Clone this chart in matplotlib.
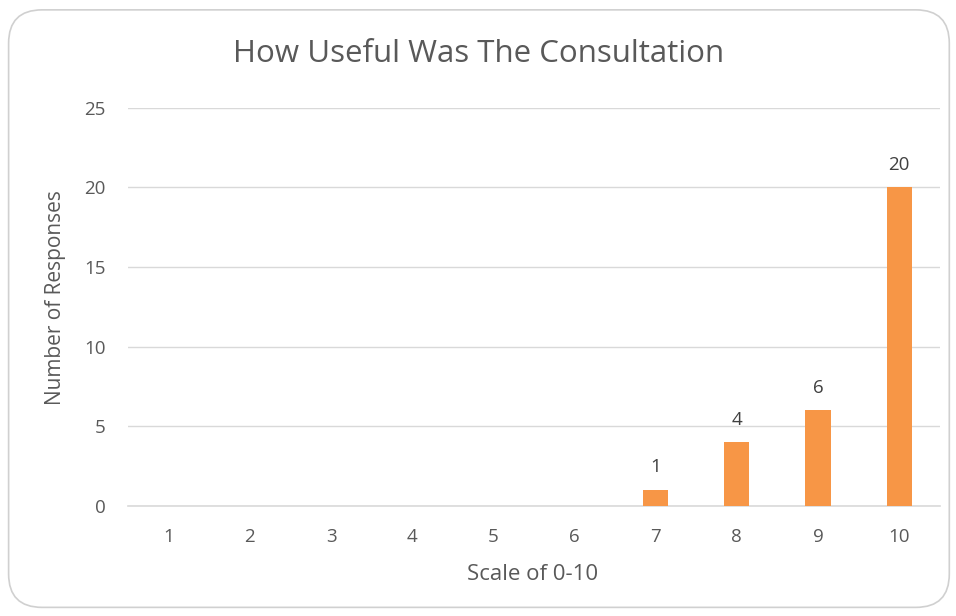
import matplotlib
matplotlib.use('Agg')
import matplotlib.pyplot as plt
from matplotlib.patches import FancyBboxPatch
import numpy as np

# data
categories = ['1', '2', '3', '4', '5', '6', '7', '8', '9', '10']
responses = [0, 0, 0, 0, 0, 0, 1, 4, 6, 20]
y_ticks = [0, 5, 10, 15, 20, 25]

TEXT = '#595959'
GRID = '#D9D9D9'
BAR = '#F79646'

plt.rcParams['font.family'] = ['Open Sans', 'DejaVu Sans']

fig = plt.figure(figsize=(9.56, 6.16), dpi=100)
ax = fig.add_axes([0.134, 0.179, 0.849, 0.646])

# rounded chart border
border = FancyBboxPatch((0.009, 0.014), 0.984, 0.97, boxstyle='round,pad=0,rounding_size=0.035',
                        transform=fig.transFigure, facecolor='none', edgecolor='#D0D0D0', lw=1.2,
                        mutation_aspect=956 / 616)
fig.patches.append(border)

x = np.arange(len(categories))
bars = ax.bar(x, responses, width=0.31, color=BAR, zorder=3)
for b, v in zip(bars, responses):
    if v > 0:
        ax.text(b.get_x() + b.get_width() / 2, v + 0.85, str(v), ha='center', va='bottom',
                fontsize=13.5, color='#404040')

ax.set_xlim(-0.5, len(categories) - 0.5)
ax.set_ylim(0, 25)
ax.set_yticks(y_ticks)
ax.set_xticks(x)
ax.set_xticklabels(categories)
ax.yaxis.grid(True, color=GRID, lw=1)
ax.set_axisbelow(True)
for s in ['top', 'right', 'left']:
    ax.spines[s].set_visible(False)
ax.spines['bottom'].set_color(GRID)
ax.spines['bottom'].set_linewidth(1.2)
ax.tick_params(axis='both', length=0, labelsize=13.5, colors=TEXT)
ax.tick_params(axis='x', pad=16)
ax.tick_params(axis='y', pad=16)

fig.text(479 / 956, 1 - 54 / 616, 'How Useful Was The Consultation', fontsize=22.5,
         color=TEXT, ha='center', va='center')
ax.set_ylabel('Number of Responses', fontsize=15, color=TEXT, va='center')
ax.yaxis.set_label_coords(-0.089, 0.523)
ax.set_xlabel('Scale of 0-10', fontsize=16, color=TEXT, va='center')
ax.xaxis.set_label_coords(0.498, -0.173)

fig.savefig('out.png', dpi=100)
